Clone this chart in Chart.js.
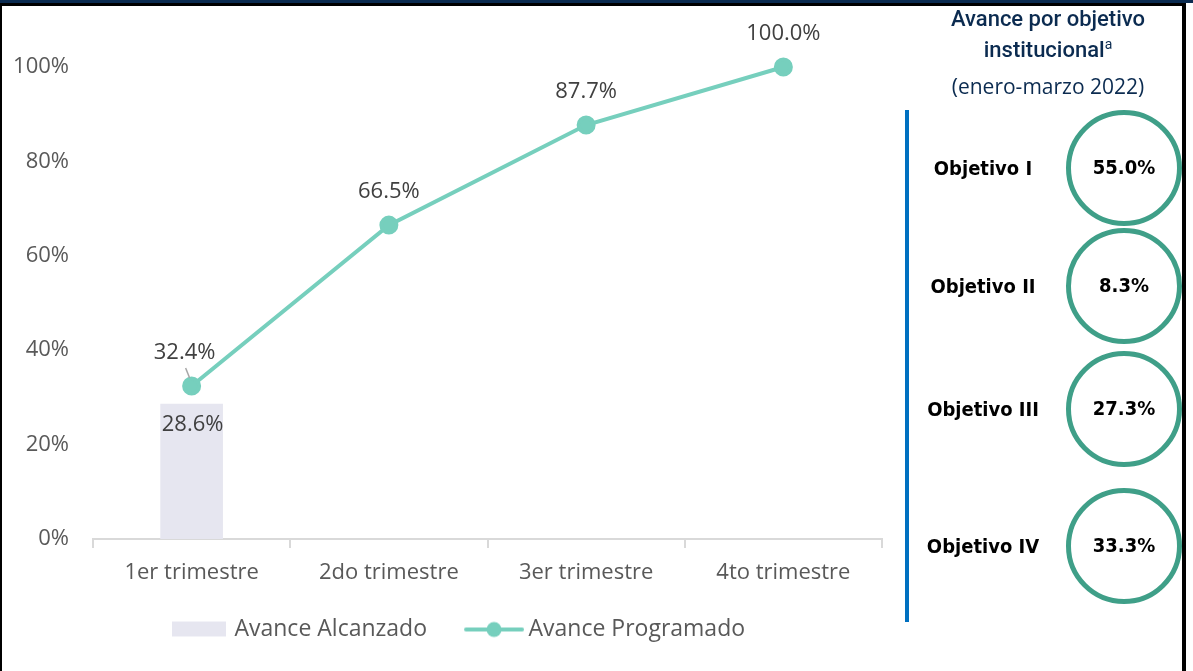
<!DOCTYPE html>
<html>
<head>
<meta charset="utf-8">
<script src="https://cdn.jsdelivr.net/npm/chart.js@4"></script>
<style>
  html, body { margin: 0; padding: 0; background: #fff; }
  #wrap { position: relative; width: 1193px; height: 671px; overflow: hidden; background: #fff; }
  #topbar { position: absolute; left: 0; top: 0; width: 1193px; height: 3px; background: #0b2b50; }
  #frame { position: absolute; left: 0; top: 3px; width: 1186px; height: 680px; border-top: 3px solid #000; border-left: 2px solid #000; border-right: 4px solid #000; box-sizing: border-box; }
  #box { position: absolute; left: 2px; top: 6px; width: 912px; height: 665px; }
  #panel { position: absolute; left: 905px; top: 0; width: 285px; height: 671px; font-family: "DejaVu Sans Condensed", "Liberation Sans", sans-serif; }
  .ttl { position: absolute; left: 0; width: 286px; text-align: center; color: #0b2b50; font-family: Roboto, sans-serif; font-weight: 500; font-size: 22px; }
  .ttl sup { font-size: 14px; font-weight: normal; vertical-align: 8px; }
  #vline { position: absolute; left: 0; top: 110px; width: 4px; height: 512px; background: #0070c0; }
  .obj { position: absolute; left: 8px; width: 140px; text-align: center; font-weight: bold; font-size: 20px; color: #000; transform: translateY(-50%); }
  .circ { position: absolute; left: 161px; width: 106px; height: 106px; border: 5px solid #3f9f88; border-radius: 50%; transform: translateY(-50%); }
  .val { position: absolute; left: 159px; width: 120px; text-align: center; font-weight: bold; font-size: 20px; color: #000; transform: translateY(-50%); }
</style>
</head>
<body>
<div id="wrap">
  <div id="topbar"></div>
  <div id="frame"></div>
  <div id="box"><canvas id="canvas_chart"></canvas></div>
  <div id="panel"></div>
</div>
<script>
// datos
const trimestres = ['1er trimestre', '2do trimestre', '3er trimestre', '4to trimestre'];
const avanceAlcanzado = [28.6, null, null, null];
const avanceProgramado = [32.4, 66.5, 87.7, 100.0];
const yTicks = [0, 20, 40, 60, 80, 100];

const objetivos = ['Objetivo I', 'Objetivo II', 'Objetivo III', 'Objetivo IV'];
const avanceObjetivo = [55.0, 8.3, 27.3, 33.3];
const objetivoY = [168, 286, 409, 546];

const FONT = '"Open Sans", Roboto, sans-serif';

// panel derecho
var panel = document.getElementById('panel');
panel.innerHTML =
  '<div class="ttl" style="top:6px">Avance por objetivo</div>' +
  '<div class="ttl" style="top:36px">institucional<sup>a</sup></div>' +
  '<div class="ttl" style="top:72px;font-family:\'Open Sans\',sans-serif;font-weight:normal;font-size:21px">(enero-marzo 2022)</div>' +
  '<div id="vline"></div>';
objetivos.forEach((o, i) => {
  panel.innerHTML +=
    `<div class="obj" style="top:${objetivoY[i]}px">${o}</div>` +
    `<div class="circ" style="top:${objetivoY[i]}px"></div>` +
    `<div class="val" style="top:${objetivoY[i] - 1}px">${avanceObjetivo[i].toFixed(1)}%</div>`;
});

// iconos de la leyenda
function legendIcon(type) {
  const c = document.createElement('canvas');
  c.width = 70; c.height = 20;
  const g = c.getContext('2d');
  if (type === 'bar') {
    g.fillStyle = '#e6e6f0';
    g.fillRect(12, 2, 54, 15);
  } else {
    g.strokeStyle = '#76cfbd';
    g.lineWidth = 4;
    g.lineCap = 'round';
    g.beginPath(); g.moveTo(12, 10); g.lineTo(68, 10); g.stroke();
    g.fillStyle = '#76cfbd';
    g.beginPath(); g.arc(40, 10, 7.5, 0, Math.PI * 2); g.fill();
  }
  return c;
}
const iconBar = legendIcon('bar');
const iconLine = legendIcon('line');

// etiquetas de datos
const dataLabels = {
  id: 'dataLabels',
  afterLayout(chart) {
    // la leyenda va un poco a la derecha del centro
    chart.legend.left += 28;
  },
  afterDatasetsDraw(chart) {
    const ctx = chart.ctx;
    ctx.save();
    ctx.font = '22px ' + FONT;
    ctx.fillStyle = '#404040';
    ctx.textAlign = 'center';
    ctx.textBaseline = 'middle';
    chart.getDatasetMeta(1).data.forEach((p, i) => {
      let dx = 0;
      if (i === 0) {
        dx = -7;
        ctx.strokeStyle = '#a6a6a6';
        ctx.lineWidth = 1.5;
        ctx.beginPath(); ctx.moveTo(p.x - 6, p.y - 18); ctx.lineTo(p.x - 2, p.y - 8); ctx.stroke();
      }
      ctx.fillText(avanceProgramado[i].toFixed(1) + '%', p.x + dx, p.y - 33);
    });
    chart.getDatasetMeta(0).data.forEach((b, i) => {
      if (avanceAlcanzado[i] == null) return;
      ctx.fillText(avanceAlcanzado[i].toFixed(1) + '%', b.x + 1, b.y + 21);
    });
    ctx.restore();
  }
};

const data_chart = {
  labels: trimestres,
  datasets: [
    {
      type: 'bar',
      label: 'Avance Alcanzado',
      data: avanceAlcanzado,
      backgroundColor: '#e6e6f0',
      barThickness: 62,
      order: 1,
    },
    {
      type: 'line',
      label: 'Avance Programado',
      data: avanceProgramado,
      borderColor: '#76cfbd',
      backgroundColor: '#76cfbd',
      borderWidth: 4,
      pointRadius: 7.5,
      pointHoverRadius: 7.5,
      tension: 0,
      clip: false,
      order: 0,
    },
  ],
};

const config_chart = {
  data: data_chart,
  plugins: [dataLabels],
  options: {
    responsive: true,
    maintainAspectRatio: false,
    animation: false,
    layout: { padding: { top: 61, right: 32, left: 0, bottom: 20 } },
    plugins: {
      tooltip: { enabled: false },
      legend: {
        position: 'bottom',
        labels: {
          usePointStyle: true,
          pointStyleWidth: 56,
          boxHeight: 15,
          padding: 34,
          color: '#595959',
          font: { family: FONT, size: 23 },
          sort: (a, b) => a.datasetIndex - b.datasetIndex,
          generateLabels(chart) {
            const items = Chart.defaults.plugins.legend.labels.generateLabels(chart);
            items.forEach(it => { it.pointStyle = it.datasetIndex === 0 ? iconBar : iconLine; });
            return items;
          },
        },
      },
    },
    scales: {
      x: {
        offset: true,
        grid: { display: true, offset: true, drawOnChartArea: false, drawTicks: true, tickLength: 9, color: '#d9d9d9', lineWidth: 2 },
        border: { display: true, color: '#d9d9d9', width: 2 },
        ticks: { color: '#595959', font: { family: FONT, size: 22 }, padding: 12 },
        afterFit(scale) { scale.height = 45; },
      },
      y: {
        min: 0,
        max: 100,
        afterBuildTicks(scale) { scale.ticks = yTicks.map(v => ({ value: v })); },
        grid: { display: false },
        border: { display: false },
        ticks: { color: '#595959', font: { family: FONT, size: 22 }, padding: 16, callback: v => v + '%' },
        afterFit(scale) { scale.width = 91; },
      },
    },
  },
};

const canvas_chart = document.getElementById('canvas_chart');
const chart_main = new Chart(canvas_chart, config_chart);
</script>
</body>
</html>
